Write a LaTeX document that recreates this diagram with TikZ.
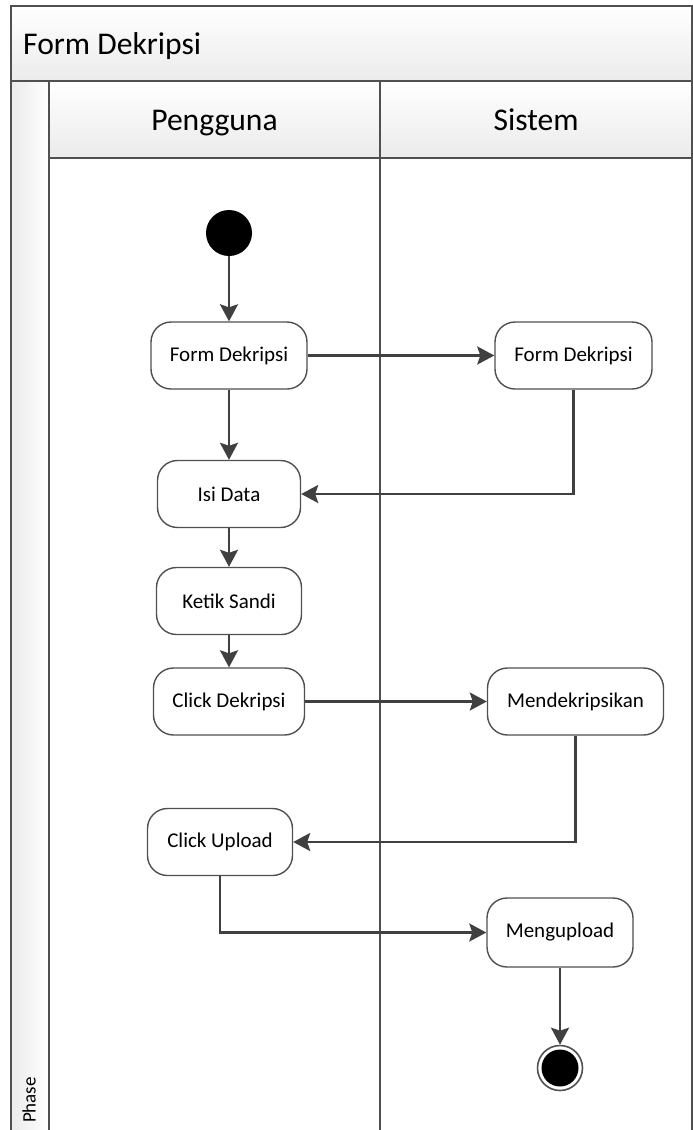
\documentclass[tikz,border=0pt]{standalone}
\usepackage{fontspec}
\setmainfont{Carlito}
\usetikzlibrary{arrows.meta}
\definecolor{lineC}{HTML}{404040}
\definecolor{frameC}{HTML}{505050}
\definecolor{shadeC}{HTML}{EBEBEB}
\begin{document}
\begin{tikzpicture}[x=1pt,y=-1pt,
  act/.style={draw=frameC, line width=1.4pt, rounded corners=20pt, fill=white,
    minimum height=67pt, inner sep=0pt, font=\fontsize{21}{25}\selectfont},
  conn/.style={draw=lineC, line width=2.6pt,
    -{Stealth[length=17pt,width=18pt,inset=3pt]}},
  lane/.style={draw=frameC, line width=1.8pt},
  hdr/.style={font=\fontsize{31.6}{37}\selectfont, inner sep=0pt}]
\useasboundingbox (0,0) rectangle (693,1130);
% title bar
\shade[top color=white, bottom color=shadeC] (11,6) rectangle (692,81);
% header
\shade[top color=white, bottom color=shadeC] (49,81) rectangle (692,158);
% phase column
\shade[left color=shadeC, right color=white] (11,81) rectangle (49,1136);
% lines
\draw[lane] (11,1136) -- (11,6) -- (692,6) -- (692,1136);
\draw[lane] (11,81) -- (692,81);
\draw[lane] (49,81) -- (49,1136);
\draw[lane] (49,158) -- (692,158);
\draw[lane] (380,81) -- (380,1136);
% texts
\node[hdr, anchor=base west] (title) at (23,54) {Form Dekripsi};
\node[hdr, anchor=base] (pengguna) at (214.5,130) {Pengguna};
\node[hdr, anchor=base] (sistem) at (536,130) {Sistem};
\node[rotate=90, anchor=base, font=\fontsize{19}{23}\selectfont, inner sep=0pt] (phase) at (35.5,1100) {Phase};
% nodes
\node[circle, fill=black, minimum size=46pt, inner sep=0pt] (start) at (229,233) {};
\node[act, minimum width=156pt] (fd1) at (229,355.5) {Form Dekripsi};
\node[act, minimum width=157pt] (fd2) at (573.5,355.5) {Form Dekripsi};
\node[act, minimum width=143pt] (isi) at (229,494) {Isi Data};
\node[act, minimum width=145pt] (ketik) at (229,601) {Ketik Sandi};
\node[act, minimum width=151pt] (cdek) at (229,701.5) {Click Dekripsi};
\node[act, minimum width=176pt] (mend) at (575.5,701.5) {Mendekripsikan};
\node[act, minimum width=145pt] (cup) at (220,842) {Click Upload};
\node[act, minimum width=146pt, minimum height=69pt] (mup) at (560,932.5) {Mengupload};
\node[circle, draw=frameC, line width=1.6pt, fill=white, minimum size=45pt, inner sep=0pt] (end) at (560,1068) {};
\fill[black] (end.center) circle (18.5);
% connectors
\draw[conn] (start) -- (fd1);
\draw[conn] (fd1) -- (fd2);
\draw[conn] (fd1) -- (isi);
\draw[conn] (fd2.south) |- (isi.east);
\draw[conn] (isi) -- (ketik);
\draw[conn] (ketik) -- (cdek);
\draw[conn] (cdek) -- (mend);
\draw[conn] (mend.south) |- (cup.east);
\draw[conn] (cup.south) |- (mup.west);
\draw[conn] (mup) -- (end);
\end{tikzpicture}
\end{document}
